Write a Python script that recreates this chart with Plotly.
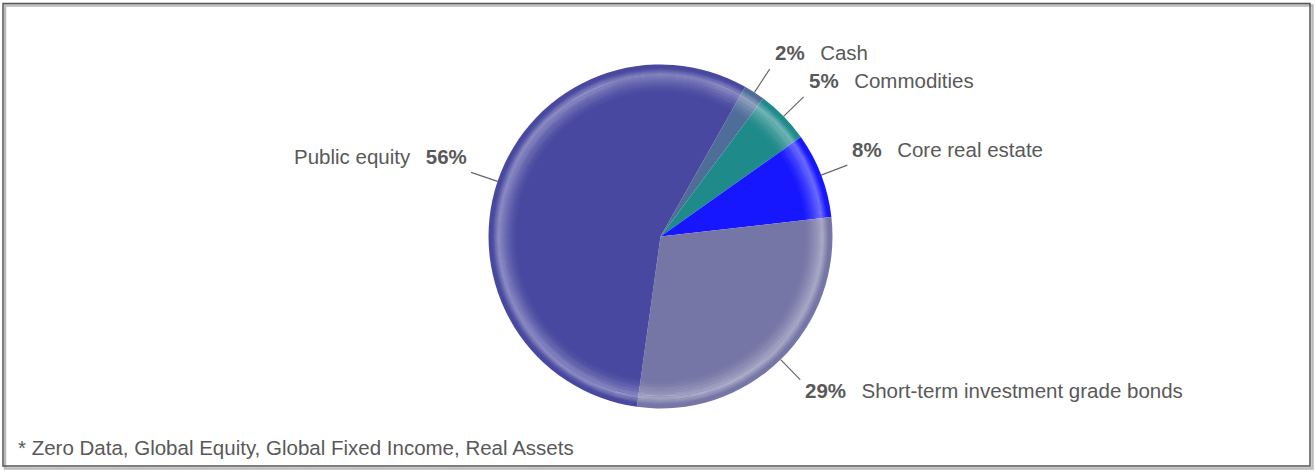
import math
import plotly.graph_objects as go

# ---- data ----
categories = ["Cash", "Commodities", "Core real estate",
              "Short-term investment grade bonds", "Public equity"]
values = [2, 5, 8, 29, 56]
colors = ["#4F6D99", "#1F8A8A", "#1616FF", "#7575A6", "#4848A0"]
footnote = "* Zero Data, Global Equity, Global Fixed Income, Real Assets"

# ---- layout constants (pixels) ----
W, H = 1315, 473
CX, CY, R = 660.5, 236.5, 172.0
ROT = 29.5
FONT = "Liberation Sans, Arial, sans-serif"
FS = 20.5
TXT = "#595959"
GAP = "\u00a0\u00a0\u2009"


def px(x):
    return x / W


def py(y):
    return 1 - y / H


dom_x = [px(CX - R), px(CX + R)]
dom_y = [py(CY + R), py(CY - R)]

fig = go.Figure()
fig.add_trace(go.Pie(
    labels=categories, values=values, sort=False, direction="clockwise",
    rotation=ROT, marker=dict(colors=colors, line=dict(width=0)),
    textinfo="none", hoverinfo="skip", showlegend=False,
    domain=dict(x=dom_x, y=dom_y),
))

shapes = []
# bevel ring highlight
for i in range(0, 28):
    r = 142 + i
    if r <= 162:
        a = 0.34 * ((r - 142) / 20.0) ** 1.6
    else:
        a = 0.34 * max(0.0, (168.5 - r) / 6.5)
    if a <= 0.005:
        continue
    shapes.append(dict(type="circle", xref="paper", yref="paper",
                       x0=px(CX - r), x1=px(CX + r), y0=py(CY + r), y1=py(CY - r),
                       line=dict(color=f"rgba(255,255,255,{a:.3f})", width=1.2),
                       fillcolor="rgba(0,0,0,0)", layer="above"))

annotations = []
total = sum(values)
cum = 0.0
for cat, v in zip(categories, values):
    mid = ROT + (cum + v / 2) / total * 360
    cum += v
    a = math.radians(mid)
    sx, sy = CX + R * math.sin(a), CY - R * math.cos(a)
    ex, ey = CX + (R + 28) * math.sin(a), CY - (R + 28) * math.cos(a)
    shapes.append(dict(type="line", xref="paper", yref="paper",
                       x0=px(sx), y0=py(sy), x1=px(ex), y1=py(ey),
                       line=dict(color="#666666", width=1.2), layer="above"))
    pct = f"<b>{v}%</b>"
    right = math.sin(a) >= 0
    ty = ey - 16 if math.cos(a) > -0.3 else ey + 11
    if right:
        text = pct + GAP + cat
        tx, anchor = ex + 3, "left"
    else:
        text = cat + GAP + pct
        tx, anchor = ex - 2, "right"
    annotations.append(dict(x=px(tx), y=py(ty), xref="paper", yref="paper",
                            text=text, showarrow=False, xanchor=anchor,
                            yanchor="middle",
                            font=dict(family=FONT, size=FS, color=TXT)))

annotations.append(dict(x=px(16), y=py(447), xref="paper", yref="paper",
                        text=footnote, showarrow=False, xanchor="left",
                        yanchor="middle",
                        font=dict(family=FONT, size=FS, color=TXT)))

# frame with shadow
shapes.insert(0, dict(type="rect", xref="paper", yref="paper",
                      x0=px(5), x1=px(1312.5), y0=py(468.5), y1=py(5.5),
                      line=dict(color="#BBBBBB", width=2.5),
                      fillcolor="rgba(0,0,0,0)", layer="below"))
shapes.insert(1, dict(type="rect", xref="paper", yref="paper",
                      x0=px(3), x1=px(1310), y0=py(466), y1=py(3.5),
                      line=dict(color="#555555", width=1.5),
                      fillcolor="rgba(0,0,0,0)", layer="below"))

fig.update_layout(
    width=W, height=H, margin=dict(l=0, r=0, t=0, b=0),
    paper_bgcolor="white", plot_bgcolor="white",
    shapes=shapes, annotations=annotations, showlegend=False,
)

fig.write_html("out.html",
               config={"displayModeBar": False},
               post_script="document.body.style.margin='0';"
                           "document.body.style.overflow='hidden';")
